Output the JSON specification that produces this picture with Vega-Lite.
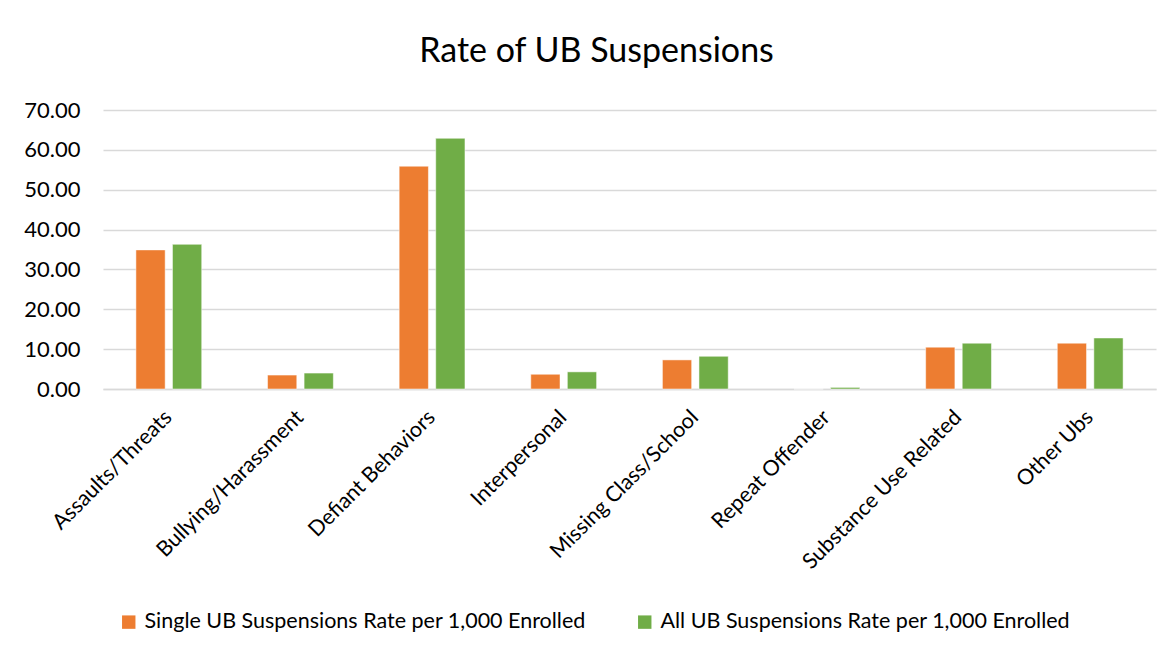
{
  "$schema": "https://vega.github.io/schema/vega-lite/v6.json",
  "autosize": {"type": "none"},
  "width": 1053,
  "height": 279,
  "padding": {"left": 103, "top": 110, "right": 18, "bottom": 265},
  "background": "white",
  "title": {
    "text": "Rate of UB Suspensions",
    "font": "Lato",
    "fontSize": 34,
    "fontWeight": "normal",
    "color": "#000000",
    "anchor": "middle",
    "dx": -33,
    "offset": 30
  },
  "data": {
    "values": [
      {"category": "Assaults/Threats", "series": "Single UB Suspensions Rate per 1,000 Enrolled", "value": 34.9},
      {"category": "Assaults/Threats", "series": "All UB Suspensions Rate per 1,000 Enrolled", "value": 36.3},
      {"category": "Bullying/Harassment", "series": "Single UB Suspensions Rate per 1,000 Enrolled", "value": 3.5},
      {"category": "Bullying/Harassment", "series": "All UB Suspensions Rate per 1,000 Enrolled", "value": 4.0},
      {"category": "Defiant Behaviors", "series": "Single UB Suspensions Rate per 1,000 Enrolled", "value": 55.9},
      {"category": "Defiant Behaviors", "series": "All UB Suspensions Rate per 1,000 Enrolled", "value": 62.9},
      {"category": "Interpersonal", "series": "Single UB Suspensions Rate per 1,000 Enrolled", "value": 3.7},
      {"category": "Interpersonal", "series": "All UB Suspensions Rate per 1,000 Enrolled", "value": 4.3},
      {"category": "Missing Class/School", "series": "Single UB Suspensions Rate per 1,000 Enrolled", "value": 7.3},
      {"category": "Missing Class/School", "series": "All UB Suspensions Rate per 1,000 Enrolled", "value": 8.2},
      {"category": "Repeat Offender", "series": "Single UB Suspensions Rate per 1,000 Enrolled", "value": 0.0},
      {"category": "Repeat Offender", "series": "All UB Suspensions Rate per 1,000 Enrolled", "value": 0.4},
      {"category": "Substance Use Related", "series": "Single UB Suspensions Rate per 1,000 Enrolled", "value": 10.5},
      {"category": "Substance Use Related", "series": "All UB Suspensions Rate per 1,000 Enrolled", "value": 11.5},
      {"category": "Other Ubs", "series": "Single UB Suspensions Rate per 1,000 Enrolled", "value": 11.5},
      {"category": "Other Ubs", "series": "All UB Suspensions Rate per 1,000 Enrolled", "value": 12.8}
    ]
  },
  "mark": {"type": "bar", "stroke": "white", "strokeWidth": 0.5},
  "encoding": {
    "x": {
      "field": "category",
      "type": "nominal",
      "sort": null,
      "title": null,
      "scale": {"paddingInner": 0.5, "paddingOuter": 0.25},
      "axis": {
        "labelAngle": -45,
        "labelAlign": "right",
        "labelBaseline": "middle",
        "labelFont": "Lato",
        "labelFontSize": 21.5,
        "labelColor": "#000000",
        "labelPadding": 25,
        "labelLimit": 400,
        "ticks": false,
        "domainColor": "#d9d9d9",
        "domainWidth": 1.5,
        "grid": false
      }
    },
    "xOffset": {
      "field": "series",
      "type": "nominal",
      "sort": ["Single UB Suspensions Rate per 1,000 Enrolled", "All UB Suspensions Rate per 1,000 Enrolled"],
      "scale": {"paddingInner": 0.2, "paddingOuter": 0}
    },
    "y": {
      "field": "value",
      "type": "quantitative",
      "title": null,
      "scale": {"domain": [0, 70], "nice": false},
      "axis": {
        "values": [0, 10, 20, 30, 40, 50, 60, 70],
        "format": ".2f",
        "labelFont": "Lato",
        "labelFontSize": 22,
        "labelColor": "#000000",
        "labelPadding": 23,
        "ticks": false,
        "domain": false,
        "gridColor": "#d9d9d9",
        "gridWidth": 1.5
      }
    },
    "color": {
      "field": "series",
      "type": "nominal",
      "sort": ["Single UB Suspensions Rate per 1,000 Enrolled", "All UB Suspensions Rate per 1,000 Enrolled"],
      "scale": {
        "domain": ["Single UB Suspensions Rate per 1,000 Enrolled", "All UB Suspensions Rate per 1,000 Enrolled"],
        "range": ["#ED7D31", "#70AD47"]
      },
      "legend": {
        "title": null,
        "orient": "none",
        "direction": "horizontal",
        "legendX": 15,
        "legendY": 501,
        "symbolType": "square",
        "symbolSize": 180,
        "symbolStrokeWidth": 0,
        "labelFont": "Lato",
        "labelFontSize": 21.5,
        "labelColor": "#000000",
        "labelLimit": 600,
        "labelOffset": 5,
        "columnPadding": 48
      }
    }
  },
  "config": {
    "view": {"stroke": null}
  }
}
